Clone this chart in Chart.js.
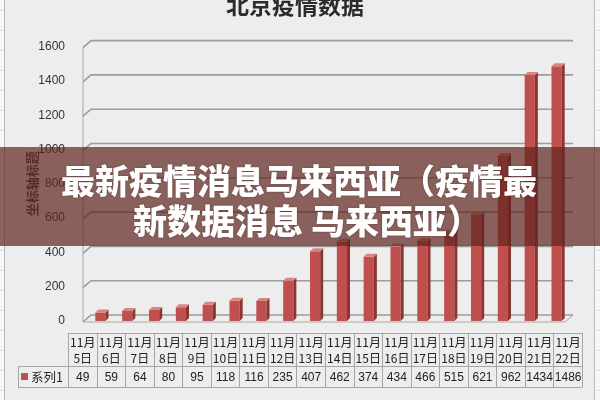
<!DOCTYPE html>
<html>
<head>
<meta charset="utf-8">
<script src="https://cdn.jsdelivr.net/npm/chart.js@4/dist/chart.umd.min.js"></script>
<style>
  html, body { margin: 0; padding: 0; background: #f7f7f7; }
  canvas { display: block; }
</style>
</head>
<body>
<canvas id="chart" width="600" height="400"></canvas>
<script>
// data
const dates = ['11月5日', '11月6日', '11月7日', '11月8日', '11月9日', '11月10日', '11月11日', '11月12日', '11月13日',
               '11月14日', '11月15日', '11月16日', '11月17日', '11月18日', '11月19日', '11月20日', '11月21日', '11月22日'];
const series1 = [49, 59, 64, 80, 95, 118, 116, 235, 407, 462, 374, 434, 466, 515, 621, 962, 1434, 1486];
const seriesName = '系列1';
const yMin = 0, yMax = 1600, yStep = 200;
const chartTitle = '北京疫情数据';
const yTitle = '坐标轴标题';
const bannerLines = ['最新疫情消息马来西亚（疫情最', '新数据消息 马来西亚）'];

const CJK = '"Noto Sans CJK SC", "Noto Sans", sans-serif';
const LAT = '"Liberation Sans", Arial, sans-serif';
const barRed = '#c0504d';

// frame + background
const frame = {
    id: 'frame',
    beforeDraw(chart) {
        const ctx = chart.ctx;
        ctx.save();
        ctx.fillStyle = '#f7f7f7';
        ctx.fillRect(0, 0, 600, 400);
        ctx.strokeStyle = '#dadada';
        ctx.lineWidth = 1;
        for (let y = 10; y < 400; y += 20) {
            ctx.beginPath(); ctx.moveTo(0, y + 0.5); ctx.lineTo(4, y + 0.5); ctx.stroke();
            ctx.beginPath(); ctx.moveTo(596, y + 0.5); ctx.lineTo(600, y + 0.5); ctx.stroke();
        }
        ctx.fillStyle = '#ededed';
        ctx.fillRect(5, -1, 590, 402);
        ctx.strokeStyle = '#b8b8b8';
        ctx.strokeRect(4.5, -1, 590, 402);
        ctx.restore();
    }
};

// 3d walls and grid lines, behind the bars
const walls = {
    id: 'walls',
    beforeDatasetsDraw(chart) {
        const ctx = chart.ctx, ys = chart.scales.y, area = chart.chartArea;
        const fx = area.left - 4, bx = area.left + 4, rx = area.right + 3;
        ctx.save();
        ctx.strokeStyle = '#9c9c9c';
        ctx.lineWidth = 1.6;
        ys.ticks.forEach(t => {
            const y = ys.getPixelForValue(t.value);
            ctx.beginPath();
            ctx.moveTo(fx, y + 1);
            ctx.lineTo(bx, y - 6);
            ctx.lineTo(rx, y - 6);
            ctx.stroke();
        });
        const top = ys.getPixelForValue(yMax), base = ys.getPixelForValue(yMin);
        ctx.lineWidth = 1;
        ctx.strokeStyle = '#a8a8a8';
        ctx.beginPath();
        ctx.moveTo(fx, top + 1);
        ctx.lineTo(fx, base + 1);
        ctx.lineTo(rx - 8, base + 1);
        ctx.lineTo(rx, base - 6);
        ctx.stroke();
        ctx.restore();
    }
};

// side and top faces of the columns
const bar3d = {
    id: 'bar3d',
    afterDatasetsDraw(chart) {
        const ctx = chart.ctx;
        const dx = 3, dy = 3;
        ctx.save();
        chart.getDatasetMeta(0).data.forEach(el => {
            const p = el.getProps(['x', 'y', 'width', 'base'], true);
            const l = p.x - p.width / 2, r = p.x + p.width / 2;
            ctx.fillStyle = '#8a3532';
            ctx.beginPath();
            ctx.moveTo(r, p.y); ctx.lineTo(r + dx, p.y - dy);
            ctx.lineTo(r + dx, p.base - dy); ctx.lineTo(r, p.base);
            ctx.closePath(); ctx.fill();
            ctx.fillStyle = '#d98582';
            ctx.beginPath();
            ctx.moveTo(l, p.y); ctx.lineTo(l + dx, p.y - dy);
            ctx.lineTo(r + dx, p.y - dy); ctx.lineTo(r, p.y);
            ctx.closePath(); ctx.fill();
        });
        ctx.restore();
    }
};

// data table under the plot
const dataTable = {
    id: 'dataTable',
    afterDraw(chart) {
        const ctx = chart.ctx;
        const x0 = 68, cw = 28.55, n = dates.length;
        const yTop = 333, yMid = 366.5, yBot = 387, xKey = 18;
        const xEnd = x0 + cw * n;
        ctx.save();
        ctx.strokeStyle = '#a6a6a6';
        ctx.lineWidth = 1;
        ctx.beginPath();
        ctx.moveTo(x0, yTop + 0.5); ctx.lineTo(xEnd, yTop + 0.5);
        ctx.moveTo(xKey, yMid); ctx.lineTo(xEnd, yMid);
        ctx.moveTo(xKey, yBot + 0.5); ctx.lineTo(xEnd, yBot + 0.5);
        ctx.moveTo(xKey + 0.5, yMid); ctx.lineTo(xKey + 0.5, yBot + 0.5);
        for (let i = 0; i <= n; i++) {
            const x = Math.round(x0 + cw * i) + 0.5;
            ctx.moveTo(x, yTop); ctx.lineTo(x, yBot + 0.5);
        }
        ctx.stroke();

        ctx.fillStyle = '#222';
        ctx.textAlign = 'center';
        ctx.textBaseline = 'middle';
        dates.forEach((d, i) => {
            const cx = x0 + cw * (i + 0.5) + 0.5;
            const k = d.indexOf('月') + 1;
            ctx.font = '12px ' + CJK;
            ctx.fillText(d.slice(0, k), cx, 342);
            ctx.fillText(d.slice(k), cx, 358);
            ctx.font = '12px ' + LAT;
            ctx.fillText(String(series1[i]), cx, 377.5);
        });
        ctx.fillStyle = barRed;
        ctx.fillRect(21, 373, 7, 7);
        ctx.fillStyle = '#222';
        ctx.textAlign = 'left';
        ctx.font = '12.5px ' + CJK;
        ctx.fillText(seriesName, 31, 377);
        ctx.restore();
    }
};

// translucent banner laid over the middle
const banner = {
    id: 'banner',
    afterDraw(chart) {
        const ctx = chart.ctx;
        ctx.save();
        ctx.fillStyle = 'rgba(95, 35, 30, 0.7)';
        ctx.fillRect(0, 147, 600, 99);
        ctx.fillStyle = '#ffffff';
        ctx.textAlign = 'center';
        ctx.textBaseline = 'middle';
        ctx.font = '900 34px ' + CJK;
        ctx.shadowColor = 'rgba(0,0,0,0.35)';
        ctx.shadowBlur = 2;
        ctx.fillText(bannerLines[0], 299, 181);
        ctx.fillText(bannerLines[1], 307, 221);
        ctx.restore();
    }
};

new Chart(document.getElementById('chart'), {
    type: 'bar',
    data: {
        labels: dates,
        datasets: [{
            label: seriesName,
            data: series1,
            backgroundColor: barRed,
            borderWidth: 0,
            barPercentage: 0.38,
            categoryPercentage: 1
        }]
    },
    options: {
        responsive: false,
        animation: false,
        devicePixelRatio: 1,
        layout: { padding: { left: 20, right: 30, top: 0, bottom: 79 } },
        plugins: {
            legend: { display: false },
            tooltip: { enabled: false },
            title: {
                display: true,
                text: chartTitle,
                color: '#2b2b2b',
                font: { size: 23, weight: 'bold', family: CJK, lineHeight: 1.2 },
                padding: { top: -9, bottom: 28 }
            }
        },
        scales: {
            x: { display: false, offset: true },
            y: {
                min: yMin,
                max: yMax,
                grid: { display: false },
                border: { display: false },
                ticks: {
                    stepSize: yStep,
                    padding: 14,
                    color: '#333',
                    font: { size: 12, family: LAT },
                    callback: v => String(v)
                },
                title: {
                    display: true,
                    text: yTitle,
                    color: '#404040',
                    font: { size: 13, weight: 'bold', family: CJK },
                    padding: { top: 4, bottom: 0 }
                },
                afterFit(scale) { scale.width = 67; }
            }
        }
    },
    plugins: [frame, walls, bar3d, dataTable, banner]
});
</script>
</body>
</html>
